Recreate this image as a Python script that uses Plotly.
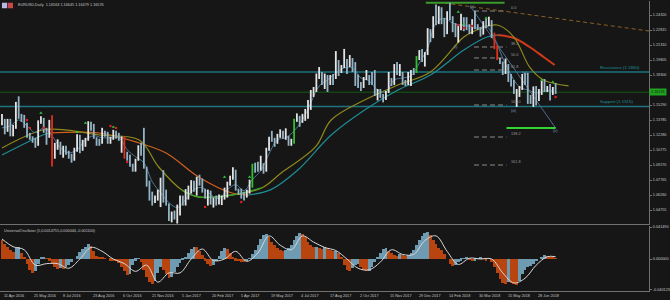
import plotly.graph_objects as go

# ---------------- DATA ----------------
BAR_STEP = 3  # each sample = 3 daily bars
first_open = 1.1330
closes = [
    1.1380, 1.1270, 1.1360, 1.1220, 1.1300, 1.1550, 1.1400, 1.1380, 1.1310, 1.1220,
    1.1210, 1.1190, 1.1130, 1.1365, 1.1395, 1.1285, 1.1220, 1.1320, 1.1110, 1.1120,
    1.1150, 1.1060, 1.1060, 1.1040, 1.1010, 1.0990, 1.1080, 1.1220, 1.1090, 1.1170,
    1.1180, 1.1350, 1.1310, 1.1200, 1.1160, 1.1150, 1.1260, 1.1220, 1.1150, 1.1190,
    1.1250, 1.1220, 1.1200, 1.1200, 1.1010, 1.0990, 1.0930, 1.0880, 1.0980, 1.1100,
    1.1040, 1.0900, 1.0720, 1.0590, 1.0550, 1.0610, 1.0660, 1.0770, 1.0560, 1.0530,
    1.0400, 1.0440, 1.0410, 1.0460, 1.0600, 1.0560, 1.0640, 1.0660, 1.0760, 1.0680,
    1.0800, 1.0780, 1.0680, 1.0600, 1.0660, 1.0540, 1.0570, 1.0560, 1.0580, 1.0580,
    1.0610, 1.0740, 1.0800, 1.0870, 1.0680, 1.0660, 1.0640, 1.0610, 1.0660, 1.0710,
    1.0930, 1.0900, 1.0880, 1.0930, 1.0870, 1.1080, 1.1200, 1.1190, 1.1160, 1.1220,
    1.1270, 1.1200, 1.1210, 1.1150, 1.1150, 1.1370, 1.1420, 1.1350, 1.1400, 1.1400,
    1.1550, 1.1660, 1.1660, 1.1830, 1.1860, 1.1750, 1.1820, 1.1770, 1.1820, 1.1800,
    1.1970, 1.1860, 1.1920, 1.1950, 1.1920, 1.1990, 1.1950, 1.1740, 1.1730, 1.1710,
    1.1800, 1.1820, 1.1780, 1.1760, 1.1650, 1.1650, 1.1610, 1.1590, 1.1660, 1.1770,
    1.1740, 1.1930, 1.1850, 1.1860, 1.1770, 1.1740, 1.1750, 1.1880, 1.1860, 1.2010,
    1.2020, 1.1970, 1.2040, 1.2260, 1.2220, 1.2410, 1.2380, 1.2500, 1.2370, 1.2250,
    1.2450, 1.2410, 1.2290, 1.2230, 1.2320, 1.2410, 1.2340, 1.2300, 1.2250, 1.2350,
    1.2310, 1.2300, 1.2240, 1.2360, 1.2330, 1.2370, 1.2210, 1.2100, 1.1990, 1.1960,
    1.1850, 1.1930, 1.1800, 1.1780, 1.1650, 1.1660, 1.1690, 1.1800, 1.1780, 1.1610,
    1.1570, 1.1700, 1.1570, 1.1640, 1.1750, 1.1680, 1.1710, 1.1640, 1.1690, 1.1660,
]
highs = [
    1.1440, 1.1390, 1.1390, 1.1390, 1.1330, 1.1560, 1.1616, 1.1440, 1.1430, 1.1350,
    1.1250, 1.1215, 1.1200, 1.1375, 1.1415, 1.1400, 1.1300, 1.1380, 1.1427, 1.1150,
    1.1185, 1.1160, 1.1120, 1.1120, 1.1070, 1.1040, 1.1100, 1.1235, 1.1230, 1.1180,
    1.1200, 1.1366, 1.1360, 1.1340, 1.1205, 1.1190, 1.1300, 1.1270, 1.1260, 1.1210,
    1.1280, 1.1270, 1.1250, 1.1215, 1.1210, 1.1060, 1.1030, 1.0940, 1.0990, 1.1125,
    1.1150, 1.1300, 1.0910, 1.0770, 1.0660, 1.0620, 1.0680, 1.0800, 1.0875, 1.0680,
    1.0540, 1.0460, 1.0470, 1.0530, 1.0620, 1.0620, 1.0685, 1.0720, 1.0775, 1.0770,
    1.0810, 1.0830, 1.0790, 1.0690, 1.0680, 1.0670, 1.0600, 1.0620, 1.0630, 1.0620,
    1.0700, 1.0760, 1.0820, 1.0905, 1.0880, 1.0690, 1.0690, 1.0660, 1.0680, 1.0780,
    1.0940, 1.0950, 1.0960, 1.1020, 1.0945, 1.1100, 1.1210, 1.1270, 1.1200, 1.1240,
    1.1285, 1.1270, 1.1295, 1.1220, 1.1190, 1.1390, 1.1445, 1.1420, 1.1440, 1.1490,
    1.1580, 1.1680, 1.1710, 1.1845, 1.1910, 1.1860, 1.1845, 1.1830, 1.1830, 1.1840,
    1.2070, 1.1980, 1.1930, 1.2092, 1.1990, 1.2030, 1.2000, 1.1960, 1.1835, 1.1760,
    1.1810, 1.1880, 1.1830, 1.1860, 1.1880, 1.1690, 1.1690, 1.1640, 1.1670, 1.1860,
    1.1800, 1.1940, 1.1960, 1.1940, 1.1860, 1.1780, 1.1860, 1.1880, 1.1900, 1.2020,
    1.2080, 1.2090, 1.2060, 1.2300, 1.2290, 1.2420, 1.2537, 1.2520, 1.2510, 1.2400,
    1.2470, 1.2555, 1.2420, 1.2350, 1.2335, 1.2445, 1.2410, 1.2410, 1.2340, 1.2390,
    1.2475, 1.2340, 1.2310, 1.2370, 1.2395, 1.2415, 1.2380, 1.2255, 1.2130, 1.2000,
    1.1965, 1.1995, 1.1940, 1.1840, 1.1780, 1.1690, 1.1720, 1.1840, 1.1850, 1.1852,
    1.1630, 1.1715, 1.1720, 1.1690, 1.1770, 1.1790, 1.1720, 1.1740, 1.1710, 1.1750,
]
lows = [
    1.1325, 1.1235, 1.1260, 1.1215, 1.1215, 1.1290, 1.1390, 1.1360, 1.1300, 1.1200,
    1.1180, 1.1150, 1.1100, 1.1120, 1.1340, 1.1250, 1.1130, 1.1200, 1.0912, 1.0990,
    1.1080, 1.1030, 1.1000, 1.1030, 1.0990, 1.0950, 1.0970, 1.1060, 1.1045, 1.1070,
    1.1110, 1.1170, 1.1270, 1.1190, 1.1120, 1.1120, 1.1140, 1.1210, 1.1140, 1.1140,
    1.1180, 1.1190, 1.1170, 1.1050, 1.0990, 1.0970, 1.0910, 1.0860, 1.0860, 1.0970,
    1.1020, 1.0890, 1.0710, 1.0570, 1.0520, 1.0545, 1.0570, 1.0505, 1.0550, 1.0520,
    1.0365, 1.0352, 1.0380, 1.0340, 1.0420, 1.0520, 1.0520, 1.0580, 1.0640, 1.0660,
    1.0620, 1.0720, 1.0650, 1.0590, 1.0520, 1.0530, 1.0500, 1.0520, 1.0530, 1.0525,
    1.0580, 1.0600, 1.0720, 1.0780, 1.0670, 1.0630, 1.0590, 1.0570, 1.0600, 1.0640,
    1.0700, 1.0850, 1.0860, 1.0870, 1.0840, 1.0860, 1.1070, 1.1160, 1.1110, 1.1140,
    1.1200, 1.1190, 1.1180, 1.1120, 1.1120, 1.1140, 1.1360, 1.1310, 1.1350, 1.1370,
    1.1390, 1.1480, 1.1610, 1.1660, 1.1790, 1.1730, 1.1690, 1.1660, 1.1730, 1.1730,
    1.1790, 1.1820, 1.1850, 1.1900, 1.1840, 1.1910, 1.1860, 1.1720, 1.1700, 1.1670,
    1.1700, 1.1780, 1.1730, 1.1730, 1.1620, 1.1575, 1.1600, 1.1555, 1.1580, 1.1650,
    1.1720, 1.1730, 1.1830, 1.1820, 1.1730, 1.1720, 1.1730, 1.1720, 1.1830, 1.1850,
    1.1980, 1.1960, 1.1915, 1.2030, 1.2160, 1.2200, 1.2330, 1.2340, 1.2340, 1.2210,
    1.2240, 1.2380, 1.2260, 1.2210, 1.2155, 1.2280, 1.2270, 1.2280, 1.2240, 1.2240,
    1.2290, 1.2280, 1.2215, 1.2235, 1.2300, 1.2320, 1.2200, 1.2090, 1.1980, 1.1940,
    1.1830, 1.1840, 1.1760, 1.1715, 1.1640, 1.1510, 1.1610, 1.1680, 1.1730, 1.1540,
    1.1540, 1.1510, 1.1525, 1.1570, 1.1630, 1.1660, 1.1660, 1.1575, 1.1630, 1.1640,
]
red_bars = [18, 44, 177, 178]
green_bars = [90, 105, 149]

# fractal-style signal marks (sample, price)
up_mark_s = [14, 27, 30, 40, 80, 89, 164, 166, 174, 194, 198]
up_mark_p = [1.1449, 1.1258, 1.1348, 1.1308, 1.0807, 1.0807, 1.2462, 1.2342, 1.2402, 1.1780, 1.1760]
dn_mark_s = [9, 10, 15, 18, 39, 41, 45, 73, 86, 164, 166, 169, 199]
dn_mark_p = [1.1378, 1.1298, 1.1298, 1.0957, 1.1318, 1.1298, 1.0957, 1.0506, 1.0556, 1.2332, 1.2302, 1.2322, 1.1609]

# fast moving average, one value every 3 samples
fast_ma = [
    1.1300, 1.1320, 1.1380, 1.1320, 1.1250, 1.1300, 1.1220, 1.1100, 1.1050, 1.1080,
    1.1180, 1.1220, 1.1200, 1.1200, 1.1200, 1.1080, 1.1010, 1.0950, 1.0760, 1.0650,
    1.0550, 1.0500, 1.0580, 1.0680, 1.0700, 1.0630, 1.0590, 1.0680, 1.0730, 1.0670,
    1.0780, 1.0870, 1.1040, 1.1180, 1.1200, 1.1270, 1.1380, 1.1550, 1.1720, 1.1780,
    1.1850, 1.1900, 1.1900, 1.1800, 1.1770, 1.1680, 1.1660, 1.1780, 1.1800, 1.1820,
    1.1950, 1.2100, 1.2350, 1.2400, 1.2350, 1.2330, 1.2320, 1.2300, 1.2320, 1.2200,
    1.2000, 1.1830, 1.1710, 1.1680, 1.1650, 1.1670, 1.1670,
]

# olive (slow) moving average knots: bar index, price
olive_idx = [0, 44, 70, 105, 148, 169, 194, 212, 248, 280, 301, 338, 355, 391, 427,
             462, 498, 512, 534, 552, 569, 584, 611]
olive_val = [1.1098, 1.1278, 1.1278, 1.1228, 1.1178, 1.0907, 1.0676, 1.0606, 1.0626,
             1.0696, 1.0847, 1.1108, 1.1379, 1.1579, 1.1730, 1.1860, 1.2211, 1.2282,
             1.2332, 1.2211, 1.1910, 1.1780, 1.1720]
olive_green_idx = [194, 212, 248, 280]
olive_green_val = [1.0676, 1.0606, 1.0626, 1.0696]

# long moving average: rising parts (teal) / falling parts (orange)
long_up1_idx = [0, 44, 51]
long_up1_val = [1.1027, 1.1228, 1.1248]
long_dn1_idx = [51, 105, 148, 177, 212, 248, 266]
long_dn1_val = [1.1248, 1.1248, 1.1148, 1.1047, 1.0807, 1.0646, 1.0626]
long_up2_idx = [266, 290, 319, 355, 391, 427, 462, 498, 523, 534]
long_up2_val = [1.0626, 1.0680, 1.0877, 1.1228, 1.1479, 1.1679, 1.1830, 1.2081, 1.2211, 1.2231]
long_dn2_idx = [534, 552, 569, 584, 596]
long_dn2_val = [1.2231, 1.2201, 1.2111, 1.2011, 1.1930]

resistance = 1.1860
support = 1.1515
last_price = 1.16576
year_high = 1.2556
target_level = 1.1298

fib_labels = ["0.0", "38.2", "50.0", "61.8", "100.0", "138.2", "161.8"]
fib_prices = [1.2472, 1.2111, 1.2001, 1.1880, 1.1529, 1.1208, 1.0927]

wave_labels = ["(ii)", "(i)", "(iv)", "(iii)", "(v)"]
wave_idx = [507, 490, 564, 552, 597]
wave_val = [1.2512, 1.2111, 1.1850, 1.1469, 1.1268]

trend_idx = [477, 698]
trend_val = [1.2552, 1.2271]
chan_idx = [505, 597]
chan_val = [1.2520, 1.1298]

price_ticks = [1.25825, 1.24320, 1.22815, 1.21310, 1.19805, 1.18300, 1.15290,
               1.13785, 1.12280, 1.10775, 1.09270, 1.07765, 1.06260, 1.04755]

date_labels = ["11 Apr 2016", "25 May 2016", "8 Jul 2016", "23 Aug 2016", "6 Oct 2016",
               "21 Nov 2016", "5 Jan 2017", "20 Feb 2017", "5 Apr 2017", "19 May 2017",
               "4 Jul 2017", "17 Aug 2017", "2 Oct 2017", "15 Nov 2017", "29 Dec 2017",
               "14 Feb 2018", "30 Mar 2018", "15 May 2018", "28 Jun 2018"]
LABEL_EVERY = 32

osc = [
    0.024, 0.020, 0.016, 0.012, 0.009, 0.014, 0.016, 0.008, 0.002, -0.006,
    -0.014, -0.018, -0.015, -0.006, 0.002, 0.003, 0.001, -0.002, -0.006, -0.010,
    -0.013, -0.012, -0.013, -0.011, -0.008, -0.004, 0.000, 0.004, 0.009, 0.013,
    0.016, 0.019, 0.017, 0.010, 0.004, 0.002, 0.002, 0.001, 0.000, -0.002,
    -0.003, -0.003, -0.005, -0.010, -0.016, -0.021, -0.019, -0.008, -0.002, 0.001,
    -0.004, -0.014, -0.024, -0.030, -0.032, -0.028, -0.018, -0.011, -0.014, -0.020,
    -0.025, -0.023, -0.017, -0.010, -0.005, -0.001, 0.002, 0.008, 0.013, 0.016,
    0.015, 0.010, 0.005, -0.002, -0.007, -0.009, -0.008, -0.003, 0.004, 0.010,
    0.014, 0.013, 0.008, 0.003, -0.002, -0.003, -0.004, -0.004, -0.003, 0.001,
    0.006, 0.012, 0.018, 0.026, 0.031, 0.032, 0.028, 0.022, 0.018, 0.014,
    0.012, 0.011, 0.012, 0.014, 0.018, 0.024, 0.030, 0.034, 0.033, 0.028,
    0.022, 0.018, 0.015, 0.016, 0.014, 0.013, 0.015, 0.014, 0.012, 0.010,
    0.011, 0.008, 0.002, -0.008, -0.014, -0.016, -0.012, -0.008, -0.006, -0.010,
    -0.014, -0.016, -0.015, -0.010, -0.004, 0.002, 0.008, 0.013, 0.014, 0.011,
    0.008, 0.005, 0.004, 0.006, 0.005, 0.004, 0.005, 0.008, 0.012, 0.018,
    0.024, 0.030, 0.034, 0.035, 0.031, 0.025, 0.019, 0.014, 0.012, 0.006,
    0.000, -0.006, -0.009, -0.008, -0.004, -0.002, 0.001, 0.002, -0.001, -0.003,
    -0.002, 0.001, 0.003, 0.001, -0.002, 0.000, -0.004, -0.010, -0.018, -0.026,
    -0.031, -0.032, -0.030, -0.031, -0.033, -0.034, -0.028, -0.020, -0.014, -0.010,
    -0.009, -0.006, -0.003, 0.000, 0.003, 0.005, 0.004, 0.003, 0.002, 0.001,
]
sig_samples = [0, 4, 8, 12, 16, 20, 24, 28, 32, 36, 40, 44, 48, 52, 56, 60, 64, 68, 72, 76,
               80, 84, 88, 92, 96, 100, 104, 108, 112, 116, 120, 124, 128, 132, 136, 140,
               144, 148, 152, 156, 160, 164, 168, 172, 176, 180, 184, 188, 192, 196, 199]
sig_val = [0.026, 0.016, 0.012, -0.008, -0.006, -0.006, -0.012, 0.000, 0.015, 0.010,
           0.000, -0.006, -0.016, -0.008, -0.030, -0.018, -0.018, 0.000, 0.013, -0.002,
           0.000, 0.010, -0.003, 0.008, 0.030, 0.018, 0.012, 0.030, 0.022, 0.015,
           0.011, 0.000, -0.012, -0.014, -0.004, 0.012, 0.006, 0.006, 0.024, 0.030,
           0.010, -0.007, 0.001, 0.000, 0.000, -0.018, -0.031, -0.025, -0.008, 0.003, 0.003]
osc_ticks = [0.04149, 0.0, -0.04012]
osc_tick_text = ["0.041490", "0.000000", "-0.040123"]

# ---------------- FIGURE ----------------
BG = "#161616"
AXC = "#707070"
TXT = "#c4c4c4"
FONT = "Liberation Sans"
SMALL = 3.8

n = len(closes)
xs = [i * BAR_STEP for i in range(n)]
opens = [first_open] + closes[:-1]

fig = go.Figure()

# horizontal levels
for lvl, col, w in [(resistance, "#1d7480", 1.5), (support, "#1d7480", 1.5),
                    (last_price, "#145a14", 1)]:
    fig.add_trace(go.Scatter(x=[-5, 700], y=[lvl, lvl], mode="lines",
                             line=dict(color=col, width=w), hoverinfo="skip",
                             xaxis="x", yaxis="y"))

# fib dashed lines
for lab, p in zip(fib_labels, fib_prices):
    fig.add_trace(go.Scatter(x=[509, 544], y=[p, p], mode="lines",
                             line=dict(color="#8a8a8a", width=1, dash="5px,3px"),
                             hoverinfo="skip", xaxis="x", yaxis="y"))
    fig.add_annotation(x=547, y=p, xref="x", yref="y", text=lab, showarrow=False,
                       xanchor="left", yanchor="bottom", yshift=-1,
                       font=dict(size=SMALL, color="#9a9a9a", family=FONT))

# moving averages
fig.add_trace(go.Scatter(x=long_up1_idx, y=long_up1_val, mode="lines", line=dict(color="#1f8c96", width=1.2, shape="spline"), xaxis="x", yaxis="y"))
fig.add_trace(go.Scatter(x=long_dn1_idx, y=long_dn1_val, mode="lines", line=dict(color="#d2601e", width=1.2, shape="spline"), xaxis="x", yaxis="y"))
fig.add_trace(go.Scatter(x=long_up2_idx, y=long_up2_val, mode="lines", line=dict(color="#1f8c96", width=1.2, shape="spline"), xaxis="x", yaxis="y"))
fig.add_trace(go.Scatter(x=long_dn2_idx, y=long_dn2_val, mode="lines", line=dict(color="#d03a1a", width=2, shape="spline"), xaxis="x", yaxis="y"))
fig.add_trace(go.Scatter(x=olive_idx, y=olive_val, mode="lines", line=dict(color="#8e8a1c", width=1.2, shape="spline"), xaxis="x", yaxis="y"))
fig.add_trace(go.Scatter(x=olive_green_idx, y=olive_green_val, mode="lines", line=dict(color="#3aa02a", width=1.4, shape="spline"), xaxis="x", yaxis="y"))
fig.add_trace(go.Scatter(x=[i * BAR_STEP * 3 for i in range(len(fast_ma))], y=fast_ma, mode="lines",
                         line=dict(color="#4d7899", width=1, shape="spline"), xaxis="x", yaxis="y"))

# trend lines
fig.add_trace(go.Scatter(x=trend_idx, y=trend_val, mode="lines", line=dict(color="#8c6020", width=1, dash="4px,3px"), xaxis="x", yaxis="y"))
fig.add_trace(go.Scatter(x=chan_idx, y=chan_val, mode="lines", line=dict(color="#4e6e8e", width=1), xaxis="x", yaxis="y"))
fig.add_trace(go.Scatter(x=[457, 542], y=[year_high, year_high], mode="lines", line=dict(color="#3a9a28", width=2), xaxis="x", yaxis="y"))
fig.add_trace(go.Scatter(x=[544, 597], y=[target_level, target_level], mode="lines", line=dict(color="#35d435", width=2), xaxis="x", yaxis="y"))

# price bars (high-low sticks)
groups = {"#e4e4e4": [], "#93b4c6": [], "#e0301c": [], "#2fbf2f": []}
for i in range(n):
    if i in red_bars:
        col = "#e0301c"
    elif i in green_bars:
        col = "#2fbf2f"
    elif closes[i] >= opens[i]:
        col = "#e4e4e4"
    else:
        col = "#93b4c6"
    groups[col].append(i)
for col, idxs in groups.items():
    bx, by = [], []
    for i in idxs:
        bx += [xs[i], xs[i], None]
        by += [lows[i], highs[i], None]
    fig.add_trace(go.Scatter(x=bx, y=by, mode="lines", line=dict(color=col, width=1.8),
                             hoverinfo="skip", xaxis="x", yaxis="y"))

# signal marks
fig.add_trace(go.Scatter(x=[s * BAR_STEP for s in up_mark_s], y=up_mark_p, mode="markers",
                         marker=dict(symbol="triangle-up", size=3, color="#2ecc40", line=dict(width=0)),
                         xaxis="x", yaxis="y"))
fig.add_trace(go.Scatter(x=[s * BAR_STEP for s in dn_mark_s], y=dn_mark_p, mode="markers",
                         marker=dict(symbol="circle", size=2.5, color="#e02020", line=dict(width=0)),
                         xaxis="x", yaxis="y"))

# wave labels
for lab, i, v in zip(wave_labels, wave_idx, wave_val):
    fig.add_annotation(x=i, y=v, xref="x", yref="y", text=lab, showarrow=False,
                       font=dict(size=SMALL, color="#7d9cc0", family=FONT))

fig.add_annotation(x=643, y=resistance, xref="x", yref="y", text="Resistance (1.1860)", showarrow=False,
                   xanchor="left", yanchor="bottom", font=dict(size=4.4, color="#1f8f9c", family=FONT))
fig.add_annotation(x=643, y=support, xref="x", yref="y", text="Support (1.1515)", showarrow=False,
                   xanchor="left", yanchor="bottom", font=dict(size=4.4, color="#1f8f9c", family=FONT))

# price box on axis
fig.add_annotation(x=1.0, y=last_price, xref="paper", yref="y", text=f"{last_price:.5f}", showarrow=False,
                   xanchor="left", yanchor="middle", bgcolor="#1fa31f",
                   font=dict(size=SMALL, color="#102010", family=FONT), borderpad=1)

# oscillator
osc_x = [i * BAR_STEP for i in range(len(osc))]
osc_col = ["#6e9ab2" if (i > 0 and osc[i] > osc[i - 1]) else "#b8440f" for i in range(len(osc))]
fig.add_trace(go.Bar(x=osc_x, y=osc, marker=dict(color=osc_col, line=dict(width=0)), width=BAR_STEP,
                     xaxis="x2", yaxis="y2"))
fig.add_trace(go.Scatter(x=[s * BAR_STEP for s in sig_samples], y=sig_val, mode="lines",
                         line=dict(color="#d8d8d8", width=1, shape="spline"), xaxis="x2", yaxis="y2"))

# titles
fig.add_annotation(x=0.024, y=1.0, xref="paper", yref="paper", text="EURUSD,Daily  1.16563 1.16645 1.16479 1.16576",
                   showarrow=False, xanchor="left", yanchor="top", font=dict(size=SMALL, color=TXT, family=FONT))
fig.add_annotation(x=0.003, y=0.222, xref="paper", yref="paper",
                   text="UniversalOscillator (5,0.0014755,0.000044,-0.001100)",
                   showarrow=False, xanchor="left", yanchor="top", font=dict(size=SMALL, color=TXT, family=FONT))
fig.add_shape(type="rect", xref="paper", yref="paper", x0=0.003, x1=0.011, y0=0.975, y1=0.994,
              fillcolor="#b8b8e8", line=dict(width=0))
fig.add_shape(type="rect", xref="paper", yref="paper", x0=0.012, x1=0.020, y0=0.975, y1=0.994,
              fillcolor="#c84848", line=dict(width=0))

# date labels
for k, lab in enumerate(date_labels):
    fig.add_annotation(x=k * LABEL_EVERY, y=0, xref="x2", yref="paper", text=lab, showarrow=False,
                       xanchor="left", yanchor="top", yshift=-1, font=dict(size=SMALL, color=TXT, family=FONT))

XR = [-2.14, 697.7]
fig.update_layout(
    width=670, height=300, margin=dict(l=0, r=17, t=1, b=9),
    paper_bgcolor=BG, plot_bgcolor=BG, showlegend=False, bargap=0,
    xaxis=dict(domain=[0, 1], range=XR, anchor="y", showticklabels=False, showgrid=False,
               zeroline=False, showline=True, linecolor=AXC),
    xaxis2=dict(domain=[0, 1], range=XR, anchor="y2", showticklabels=False, showgrid=False,
                zeroline=False, showline=True, linecolor=AXC),
    yaxis=dict(domain=[0.231, 1], range=[1.03351, 1.25725], side="right", showgrid=False, zeroline=False,
               showline=True, linecolor=AXC, tickvals=price_ticks, ticktext=[f"{v:.5f}" for v in price_ticks],
               tickfont=dict(size=SMALL, color=TXT, family=FONT), ticks="outside", ticklen=2, tickcolor=AXC),
    yaxis2=dict(domain=[0, 0.224], range=[-0.0415, 0.0428], side="right", anchor="x2", showgrid=False,
                zeroline=False, showline=True, linecolor=AXC, tickvals=osc_ticks, ticktext=osc_tick_text,
                tickfont=dict(size=SMALL, color=TXT, family=FONT), ticks="outside", ticklen=2, tickcolor=AXC),
)

fig.write_html("out.html")
